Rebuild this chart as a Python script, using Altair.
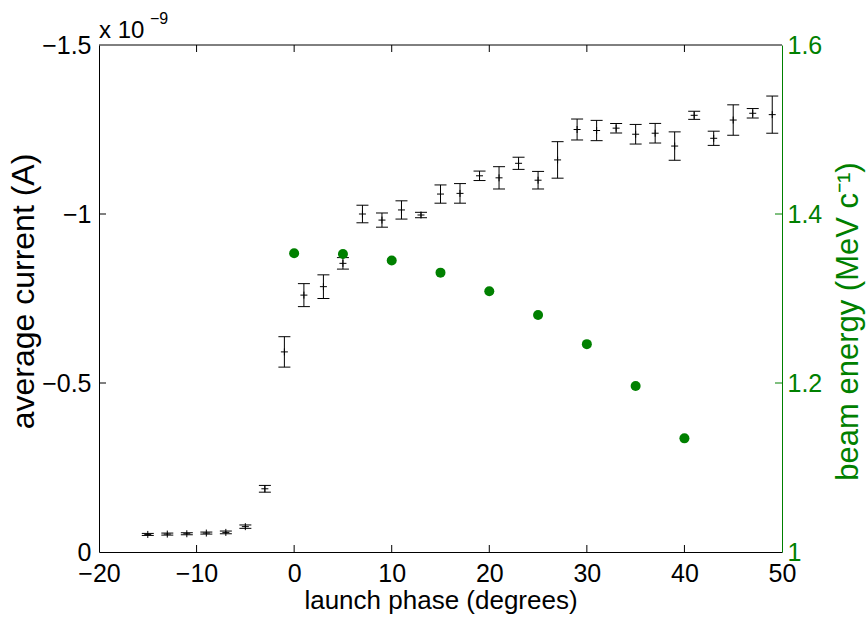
import altair as alt
import pandas as pd

# ---- data ----
phase = [-15, -13, -11, -9, -7, -5, -3, -1, 1, 3, 5, 7, 9, 11, 13, 15, 17,
         19, 21, 23, 25, 27, 29, 31, 33, 35, 37, 39, 41, 43, 45, 47, 49]
current = [-0.052, -0.053, -0.054, -0.056, -0.058, -0.075, -0.187, -0.592,
           -0.760, -0.785, -0.854, -1.000, -0.982, -1.012, -0.997, -1.059,
           -1.061, -1.113, -1.107, -1.150, -1.100, -1.160, -1.250, -1.247,
           -1.254, -1.236, -1.239, -1.201, -1.292, -1.224, -1.278, -1.298,
           -1.294]
current_err = [0.003, 0.003, 0.003, 0.003, 0.004, 0.005, 0.010, 0.045,
               0.034, 0.035, 0.017, 0.026, 0.021, 0.027, 0.008, 0.027,
               0.029, 0.014, 0.033, 0.018, 0.026, 0.054, 0.031, 0.030,
               0.014, 0.029, 0.029, 0.042, 0.012, 0.021, 0.045, 0.014,
               0.055]
energy_phase = [0, 5, 10, 15, 20, 25, 30, 35, 40]
energy = [1.3535, 1.3527, 1.345, 1.3306, 1.3085, 1.2805, 1.246, 1.1964, 1.1345]

x_ticks = [-20, -10, 0, 10, 20, 30, 40, 50]
x_inner_ticks = [-10, 0, 10, 20, 30, 40]
left_ticks = [-1.5, -1, -0.5, 0]
left_inner_ticks = [-1, -0.5]
right_ticks = [1, 1.2, 1.4, 1.6]
right_inner_ticks = [1.2, 1.4]

GREEN = "#008000"
FONT = "Liberation Sans"
W, H = 683, 507
TL = 7  # inward tick length

df = pd.DataFrame({"phase": phase, "current": current, "err": current_err})
df["lo"] = df["current"] - df["err"]
df["hi"] = df["current"] + df["err"]
edf = pd.DataFrame({"phase": energy_phase, "energy": energy})

xscale = alt.Scale(domain=[-20, 50], nice=False, zero=False)
yscale = alt.Scale(domain=[-1.5, 0], reverse=True, nice=False, zero=False)
escale = alt.Scale(domain=[1, 1.6], nice=False, zero=False)

x_axis = alt.Axis(values=x_ticks, format="d", ticks=False, grid=False,
                  labelPadding=9, labelFontSize=25, labelFont=FONT,
                  labelColor="black", domainColor="black", domainWidth=1,
                  title="launch phase (degrees)", titleFontSize=26,
                  titleFont=FONT, titleFontWeight="normal", titleColor="black",
                  titleBaseline="alphabetic", titleY=56, labelFlush=False)

y_axis = alt.Axis(values=left_ticks, format="~g", ticks=False, grid=False,
                  labelPadding=8, labelFontSize=25, labelFont=FONT,
                  labelColor="black", domainColor="black", domainWidth=1,
                  title="average current (A)", titleFontSize=32,
                  titleFont=FONT, titleFontWeight="normal", titleColor="black",
                  titleAngle=270, titleBaseline="alphabetic", titleAlign="center",
                  titleX=-66, titleY=246, labelFlush=False)

e_axis = alt.Axis(values=right_ticks, format="~g", ticks=False, grid=False,
                  orient="right", labelPadding=5, labelFontSize=25,
                  labelFont=FONT, labelColor=GREEN, domainColor=GREEN, domainWidth=1,
                  title="beam energy (MeV c\u207b\u00b9)", titleFontSize=31,
                  titleFont=FONT, titleFontWeight="normal", titleColor=GREEN,
                  titleAngle=270, titleBaseline="alphabetic", titleAlign="center",
                  titleX=75, titleY=276, labelFlush=False)


def X(field):
    return alt.X(field, type="quantitative", scale=xscale, axis=x_axis)


def Y(field):
    return alt.Y(field, type="quantitative", scale=yscale, axis=y_axis)


def E(field):
    return alt.Y(field, type="quantitative", scale=escale, axis=e_axis)


base = alt.Chart(df)

err_rule = base.mark_rule(color="black", strokeWidth=1).encode(
    x=X("phase"), y=Y("lo"), y2="hi:Q")
cap_lo = base.mark_tick(orient="horizontal", size=12, thickness=1, color="black", opacity=1).encode(
    x=X("phase"), y=Y("lo"))
cap_hi = base.mark_tick(orient="horizontal", size=12, thickness=1, color="black", opacity=1).encode(
    x=X("phase"), y=Y("hi"))
center = base.mark_point(shape="M-1,0L1,0M0,-1L0,1", size=49, filled=False,
                         strokeWidth=1, color="black", opacity=1).encode(
    x=X("phase"), y=Y("current"))

lt = alt.Chart(pd.DataFrame({"phase": left_inner_ticks})).mark_rule(color="black").encode(
    y=Y("phase"), x=alt.value(0), x2=alt.value(TL))

xt_df = pd.DataFrame({"phase": x_inner_ticks})
bt = alt.Chart(xt_df).mark_rule(color="black").encode(
    x=X("phase"), y=alt.value(H), y2=alt.value(H - TL))
tt = alt.Chart(xt_df).mark_rule(color="black").encode(
    x=X("phase"), y=alt.value(0), y2=alt.value(TL))
top_line = alt.Chart(pd.DataFrame({"a": [0]})).mark_rule(color="black", strokeWidth=1).encode(
    x=alt.value(0), x2=alt.value(W), y=alt.value(0))

mult = alt.Chart(pd.DataFrame({"t": ["x 10"]})).mark_text(
    align="left", baseline="alphabetic", fontSize=24, font=FONT, color="black").encode(
    text="t:N", x=alt.value(0), y=alt.value(-7))
mult_exp = alt.Chart(pd.DataFrame({"t": ["\u22129"]})).mark_text(
    align="left", baseline="alphabetic", fontSize=16, font=FONT, color="black").encode(
    text="t:N", x=alt.value(51), y=alt.value(-21))

black = alt.layer(err_rule, cap_lo, cap_hi, center, lt, bt, tt, top_line, mult, mult_exp)

dots = alt.Chart(edf).mark_circle(size=100, color=GREEN, opacity=1).encode(
    x=X("phase"), y=E("energy"))
rt = alt.Chart(pd.DataFrame({"energy": right_inner_ticks})).mark_rule(color=GREEN).encode(
    y=E("energy"), x=alt.value(W - TL), x2=alt.value(W))

green = alt.layer(dots, rt)

chart = alt.layer(black, green).resolve_scale(y="independent").properties(
    width=W, height=H,
    autosize=alt.AutoSizeParams(type="none"),
    padding={"left": 99, "top": 45, "right": 867 - 99 - W, "bottom": 619 - 45 - H},
    background="white",
).configure_view(stroke=None)

chart.save("out.html", embed_options={"renderer": "svg", "actions": False})
